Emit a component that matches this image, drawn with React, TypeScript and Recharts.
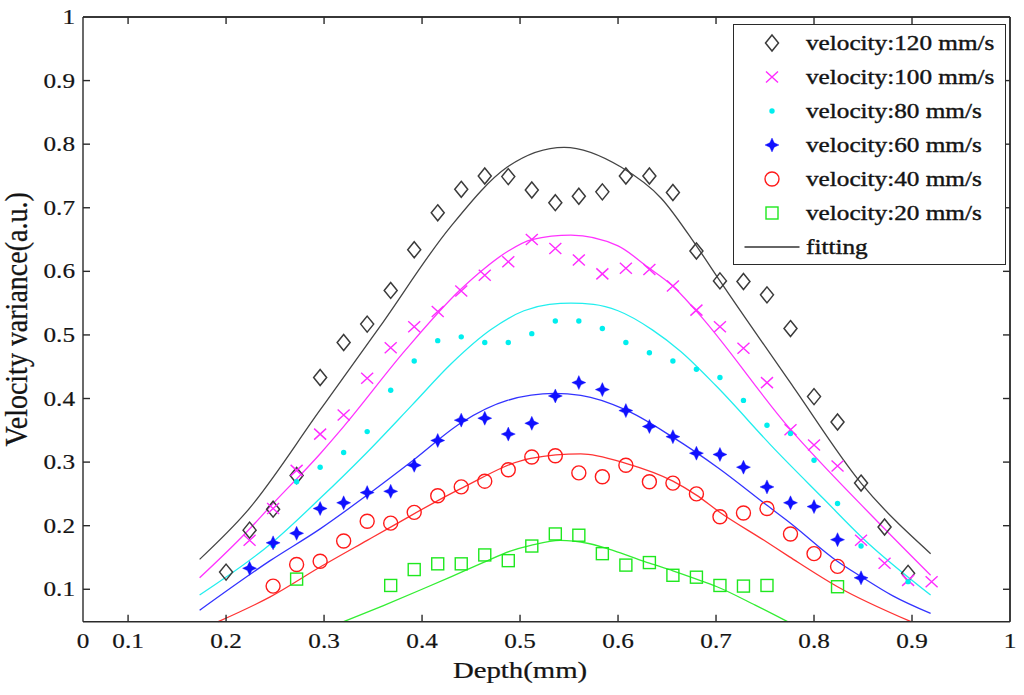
import React from 'react';
import { ComposedChart, Line, Scatter, XAxis, YAxis, Legend, ReferenceLine } from 'recharts';

// ---- data ----
const depthMm = [0.2, 0.224, 0.248, 0.272, 0.296, 0.32, 0.344, 0.368, 0.392, 0.416, 0.44, 0.464, 0.488, 0.512, 0.536, 0.56, 0.584, 0.608, 0.632, 0.656, 0.68, 0.704, 0.728, 0.752, 0.776, 0.8, 0.824, 0.848, 0.872, 0.896, 0.92];

const v120 = [0.127, 0.193, 0.226, 0.279, 0.433, 0.488, 0.517, 0.570, 0.634, 0.692, 0.729, 0.750, 0.749, 0.728, 0.708, 0.718, 0.725, 0.750, 0.750, 0.724, 0.632, 0.585, 0.584, 0.563, 0.510, 0.403, 0.363, 0.267, 0.198, 0.125, null];
const v100 = [null, 0.177, 0.227, 0.287, 0.344, 0.374, 0.432, 0.480, 0.513, 0.537, 0.569, 0.594, 0.615, 0.650, 0.636, 0.618, 0.596, 0.605, 0.603, 0.577, 0.539, 0.513, 0.479, 0.425, 0.351, 0.327, 0.294, 0.177, 0.141, 0.114, 0.112];
const v80 = [null, null, 0.169, 0.269, 0.292, 0.315, 0.348, 0.413, 0.459, 0.491, 0.497, 0.488, 0.488, 0.502, 0.522, 0.522, 0.510, 0.488, 0.472, 0.459, 0.446, 0.433, 0.397, 0.358, 0.345, 0.303, 0.235, 0.168, null, 0.112, null];
const v60 = [null, 0.133, 0.173, 0.188, 0.227, 0.236, 0.252, 0.254, 0.295, 0.334, 0.366, 0.369, 0.344, 0.361, 0.404, 0.425, 0.414, 0.381, 0.356, 0.340, 0.314, 0.312, 0.292, 0.261, 0.236, 0.230, 0.178, 0.118, null, null, null];
const v40 = [null, null, 0.105, 0.139, 0.144, 0.176, 0.207, 0.204, 0.221, 0.247, 0.261, 0.270, 0.288, 0.308, 0.310, 0.283, 0.277, 0.295, 0.269, 0.267, 0.250, 0.214, 0.220, 0.227, 0.187, 0.156, 0.136, null, null, null, null];
const v20 = [null, null, null, 0.116, null, null, null, 0.106, 0.131, 0.140, 0.140, 0.154, 0.145, 0.168, 0.187, 0.185, 0.156, 0.138, 0.142, 0.122, 0.119, 0.106, 0.105, 0.106, null, null, 0.104, null, null, null, null];

// fitting curves (x in mm, y in a.u.)
const fit120X = [0.173, 0.221, 0.296, 0.357, 0.429, 0.487, 0.545, 0.603, 0.644, 0.68, 0.704, 0.779, 0.848, 0.919];
const fit120Y = [0.147, 0.222, 0.382, 0.513, 0.67, 0.764, 0.795, 0.764, 0.715, 0.64, 0.585, 0.418, 0.267, 0.156];
const fit100X = [0.173, 0.221, 0.245, 0.2965, 0.3195, 0.383, 0.439, 0.464, 0.488, 0.512, 0.552, 0.6, 0.63, 0.655, 0.679, 0.775, 0.86, 0.919];
const fit100Y = [0.118, 0.19, 0.23, 0.314, 0.355, 0.476, 0.571, 0.605, 0.632, 0.65, 0.657, 0.64, 0.607, 0.578, 0.539, 0.353, 0.214, 0.122];
const fit80X = [0.173, 0.246, 0.296, 0.343, 0.39, 0.43, 0.47, 0.504, 0.53, 0.552, 0.575, 0.6, 0.635, 0.664, 0.7, 0.76, 0.81, 0.85, 0.919];
const fit80Y = [0.091, 0.172, 0.243, 0.314, 0.39, 0.455, 0.508, 0.538, 0.548, 0.55, 0.548, 0.538, 0.508, 0.474, 0.42, 0.32, 0.242, 0.18, 0.091];
const fit60X = [0.173, 0.245, 0.296, 0.343, 0.391, 0.44, 0.487, 0.535, 0.562, 0.608, 0.655, 0.703, 0.752, 0.776, 0.823, 0.848, 0.88, 0.919];
const fit60Y = [0.067, 0.145, 0.195, 0.247, 0.303, 0.362, 0.397, 0.408, 0.405, 0.382, 0.34, 0.29, 0.232, 0.204, 0.145, 0.12, 0.09, 0.062];
const fit40X = [0.192, 0.245, 0.296, 0.344, 0.367, 0.439, 0.511, 0.562, 0.608, 0.656, 0.68, 0.703, 0.749, 0.775, 0.824, 0.899];
const fit40Y = [0.049, 0.088, 0.135, 0.177, 0.197, 0.258, 0.306, 0.313, 0.298, 0.27, 0.248, 0.222, 0.177, 0.151, 0.104, 0.049];
const fit20X = [0.32, 0.36, 0.4, 0.43, 0.461, 0.49, 0.511, 0.541, 0.57, 0.599, 0.632, 0.656, 0.68, 0.701, 0.74, 0.773];
const fit20Y = [0.049, 0.074, 0.1, 0.12, 0.141, 0.16, 0.169, 0.177, 0.172, 0.159, 0.141, 0.129, 0.116, 0.104, 0.075, 0.049];

const xTicks = [0.054, 0.1, 0.2, 0.3, 0.4, 0.5, 0.6, 0.7, 0.8, 0.9, 1];
const xTickLabels = ['0', '0.1', '0.2', '0.3', '0.4', '0.5', '0.6', '0.7', '0.8', '0.9', '1'];
const yTicks = [0.1, 0.2, 0.3, 0.4, 0.5, 0.6, 0.7, 0.8, 0.9, 1];
const yTickLabels = ['0.1', '0.2', '0.3', '0.4', '0.5', '0.6', '0.7', '0.8', '0.9', '1'];
const X_MIN = 0.054;
const X_MAX = 1;
const Y_MIN = 0.049;
const Y_MAX = 1;

const seriesLabels = ['velocity:120 mm/s', 'velocity:100 mm/s', 'velocity:80 mm/s', 'velocity:60 mm/s', 'velocity:40 mm/s', 'velocity:20 mm/s'];
const fittingLabel = 'fitting';
const xLabel = 'Depth(mm)';
const yLabel = 'Velocity variance(a.u.)';

// ---- layout & styling ----
const CHART_W = 1024;
const CHART_H = 695;
const TOP_AXIS_H = 10;
const RIGHT_AXIS_W = 10;
const MARGIN = { top: 17 - TOP_AXIS_H, right: 14 - RIGHT_AXIS_W, bottom: 0, left: 0 };
const FONT = '"Liberation Serif", "Times New Roman", serif';
const AXIS = '#2a2a2a';
const TXT = '#141414';
const colors = ['#3a3a3a', '#ff2bff', '#00eeee', '#1010ff', '#ff1a1a', '#1ee81e'];
const lineColors = ['#444444', '#ff33ff', '#22eeee', '#3333ff', '#ff3333', '#33ee33'];

const toPoints = (xs: number[], ys: (number | null)[]) =>
  xs.map((x, i) => ({ x, y: ys[i] })).filter((p) => p.y !== null && p.y !== undefined);

// ---- marker shapes ----
type MP = { cx: number; cy: number; color: string };
const Diamond = ({ cx, cy, color }: MP) => (
  <path d={`M${cx},${cy - 8} L${cx + 6.5},${cy} L${cx},${cy + 8} L${cx - 6.5},${cy} Z`} fill="none" stroke={color} strokeWidth={1.5} />
);
const Cross = ({ cx, cy, color }: MP) => (
  <path d={`M${cx - 6},${cy - 5.5} L${cx + 6},${cy + 5.5} M${cx - 6},${cy + 5.5} L${cx + 6},${cy - 5.5}`} fill="none" stroke={color} strokeWidth={1.4} />
);
const Dot = ({ cx, cy, color }: MP) => <circle cx={cx} cy={cy} r={2.7} fill={color} stroke="none" />;
const Star = ({ cx, cy, color }: MP) => (
  <path
    d={`M${cx},${cy - 7} L${cx + 2.2},${cy - 2.2} L${cx + 7},${cy} L${cx + 2.2},${cy + 2.2} L${cx},${cy + 7} L${cx - 2.2},${cy + 2.2} L${cx - 7},${cy} L${cx - 2.2},${cy - 2.2} Z`}
    fill={color}
    stroke={color}
    strokeOpacity={0.4}
    strokeWidth={1}
  />
);
const Ring = ({ cx, cy, color }: MP) => <circle cx={cx} cy={cy} r={7} fill="none" stroke={color} strokeWidth={1.4} />;
const Square = ({ cx, cy, color }: MP) => (
  <rect x={cx - 6} y={cy - 6} width={12} height={12} fill="none" stroke={color} strokeWidth={1.4} />
);
const shapes = [Diamond, Cross, Dot, Star, Ring, Square];

const scatterSets = [v120, v100, v80, v60, v40, v20].map((vals) => toPoints(depthMm, vals));
const fitSets = [
  toPoints(fit120X, fit120Y),
  toPoints(fit100X, fit100Y),
  toPoints(fit80X, fit80Y),
  toPoints(fit60X, fit60Y),
  toPoints(fit40X, fit40Y),
  toPoints(fit20X, fit20Y),
];

// ---- ticks & labels (inward tick marks on all four sides, MATLAB box style) ----
const TICK_LEN = 7;
const XTick = (props: any) => {
  const { x, y, payload } = props;
  const idx = xTicks.indexOf(payload.value);
  const label = idx >= 0 ? xTickLabels[idx] : String(payload.value);
  const edge = payload.value === X_MIN || payload.value === X_MAX;
  return (
    <g>
      {!edge && <line x1={x} y1={y} x2={x} y2={y - TICK_LEN} stroke={AXIS} strokeWidth={1.4} />}
      <text transform={`translate(${x},${y + 26}) scale(1.2,1)`} textAnchor="middle" fontFamily={FONT} fontSize={21} fill={TXT} stroke={TXT} strokeWidth={0.2}>
        {label}
      </text>
    </g>
  );
};
const XTopTick = (props: any) => {
  const { x, y, payload } = props;
  const edge = payload.value === X_MIN || payload.value === X_MAX;
  return <g>{!edge && <line x1={x} y1={y} x2={x} y2={y + TICK_LEN} stroke={AXIS} strokeWidth={1.4} />}</g>;
};
const YTick = (props: any) => {
  const { x, y, payload } = props;
  const idx = yTicks.indexOf(payload.value);
  const label = idx >= 0 ? yTickLabels[idx] : String(payload.value);
  const edge = payload.value === Y_MAX;
  return (
    <g>
      {!edge && <line x1={x} y1={y} x2={x + TICK_LEN} y2={y} stroke={AXIS} strokeWidth={1.4} />}
      <text transform={`translate(${x - 8},${y + 7}) scale(1.2,1)`} textAnchor="end" fontFamily={FONT} fontSize={21} fill={TXT} stroke={TXT} strokeWidth={0.2}>
        {label}
      </text>
    </g>
  );
};
const YRightTick = (props: any) => {
  const { x, y, payload } = props;
  const edge = payload.value === Y_MAX;
  return <g>{!edge && <line x1={x} y1={y} x2={x - TICK_LEN} y2={y} stroke={AXIS} strokeWidth={1.4} />}</g>;
};
const XLabel = (props: any) => {
  const vb = props.viewBox || { x: 83, y: 622, width: 927 };
  const cx = vb.x + (vb.width * (0.5 - X_MIN)) / (X_MAX - X_MIN);
  return (
    <text transform={`translate(${cx},${vb.y + 56}) scale(1.2,1)`} textAnchor="middle" fontFamily={FONT} fontSize={24} fill={TXT} stroke={TXT} strokeWidth={0.25}>
      {xLabel}
    </text>
  );
};
const YLabel = (props: any) => {
  const vb = props.viewBox || { x: 0, y: 17, width: 83, height: 605 };
  const cy = vb.y + vb.height / 2;
  return (
    <text transform={`translate(27,${cy}) rotate(-90) scale(1,1.1)`} textAnchor="middle" fontFamily={FONT} fontSize={28} fill={TXT} stroke={TXT} strokeWidth={0.25}>
      {yLabel}
    </text>
  );
};

// ---- legend ----
const legendText: React.CSSProperties = {
  position: 'absolute',
  left: 72,
  top: 0,
  lineHeight: '34px',
  fontSize: 21,
  whiteSpace: 'nowrap',
  transform: 'scaleX(1.2)',
  transformOrigin: 'left center',
  WebkitTextStroke: '0.4px #141414',
};
const LegendBox = () => (
  <div
    style={{
      width: 273,
      height: 241,
      border: `1.5px solid ${AXIS}`,
      boxSizing: 'border-box',
      background: '#fff',
      position: 'relative',
      fontFamily: FONT,
      color: TXT,
    }}
  >
    {seriesLabels.map((label, i) => {
      const Shape = shapes[i];
      return (
        <div key={label} style={{ position: 'absolute', left: 0, top: 0.5 + i * 34, height: 34, width: '100%' }}>
          <svg width={40} height={34} style={{ position: 'absolute', left: 17.5, top: 0 }}>
            <Shape cx={20} cy={17} color={colors[i]} />
          </svg>
          <span style={legendText}>{label}</span>
        </div>
      );
    })}
    <div style={{ position: 'absolute', left: 0, top: 0.5 + 6 * 34, height: 34, width: '100%' }}>
      <svg width={70} height={34} style={{ position: 'absolute', left: 0, top: 0 }}>
        <line x1={10.5} y1={17} x2={65.5} y2={17} stroke="#333" strokeWidth={1.4} />
      </svg>
      <span style={legendText}>{fittingLabel}</span>
    </div>
  </div>
);

export default function App() {
  return (
    <div style={{ position: 'absolute', left: 0, top: 0, width: CHART_W, height: CHART_H, background: '#fff' }}>
      <ComposedChart width={CHART_W} height={CHART_H} margin={MARGIN}>
        <XAxis
          xAxisId="bottom"
          dataKey="x"
          type="number"
          domain={[X_MIN, X_MAX]}
          ticks={xTicks}
          interval={0}
          height={73.3}
          tickSize={0}
          tickMargin={0}
          axisLine={{ stroke: AXIS, strokeWidth: 1.4 }}
          tickLine={false}
          tick={<XTick />}
          label={<XLabel />}
        />
        <XAxis
          xAxisId="top"
          orientation="top"
          dataKey="x"
          type="number"
          domain={[X_MIN, X_MAX]}
          ticks={xTicks}
          interval={0}
          height={TOP_AXIS_H}
          tickSize={0}
          tickMargin={0}
          axisLine={{ stroke: AXIS, strokeWidth: 1.4 }}
          tickLine={false}
          tick={<XTopTick />}
        />
        <YAxis
          yAxisId="left"
          dataKey="y"
          type="number"
          domain={[Y_MIN, Y_MAX]}
          ticks={yTicks}
          interval={0}
          width={83}
          tickSize={0}
          tickMargin={0}
          axisLine={{ stroke: AXIS, strokeWidth: 1.4 }}
          tickLine={false}
          tick={<YTick />}
          label={<YLabel />}
        />
        <YAxis
          yAxisId="right"
          orientation="right"
          dataKey="y"
          type="number"
          domain={[Y_MIN, Y_MAX]}
          ticks={yTicks}
          interval={0}
          width={RIGHT_AXIS_W}
          tickSize={0}
          tickMargin={0}
          axisLine={{ stroke: AXIS, strokeWidth: 1.4 }}
          tickLine={false}
          tick={<YRightTick />}
        />
        {/* frame edges as reference lines as well */}
        <ReferenceLine xAxisId="bottom" yAxisId="left" y={Y_MAX} stroke={AXIS} strokeWidth={1.4} ifOverflow="visible" />
        <ReferenceLine xAxisId="bottom" yAxisId="left" x={X_MAX} stroke={AXIS} strokeWidth={1.4} ifOverflow="visible" />
        {/* transparent copy of the top fit, binding the top/right frame axes */}
        <Line
          xAxisId="top"
          yAxisId="right"
          data={fitSets[0]}
          dataKey="y"
          stroke="transparent"
          dot={false}
          activeDot={false}
          isAnimationActive={false}
          legendType="none"
        />
        {fitSets.map((pts, i) => (
          <Line
            key={`fit-${i}`}
            xAxisId="bottom"
            yAxisId="left"
            data={pts}
            dataKey="y"
            type="monotone"
            stroke={lineColors[i]}
            strokeWidth={1.3}
            dot={false}
            activeDot={false}
            isAnimationActive={false}
            legendType="none"
          />
        ))}
        {scatterSets.map((pts, i) => {
          const Shape = shapes[i];
          return (
            <Scatter
              key={`sc-${i}`}
              xAxisId="bottom"
              yAxisId="left"
              data={pts}
              dataKey="y"
              isAnimationActive={false}
              shape={(p: any) => <Shape cx={p.cx} cy={p.cy} color={colors[i]} />}
            />
          );
        })}
        <Legend
          layout="horizontal"
          verticalAlign="middle"
          align="center"
          content={<LegendBox />}
          wrapperStyle={{ position: 'absolute', left: 733, top: 24, width: 273, height: 241 }}
        />
      </ComposedChart>
    </div>
  );
}
